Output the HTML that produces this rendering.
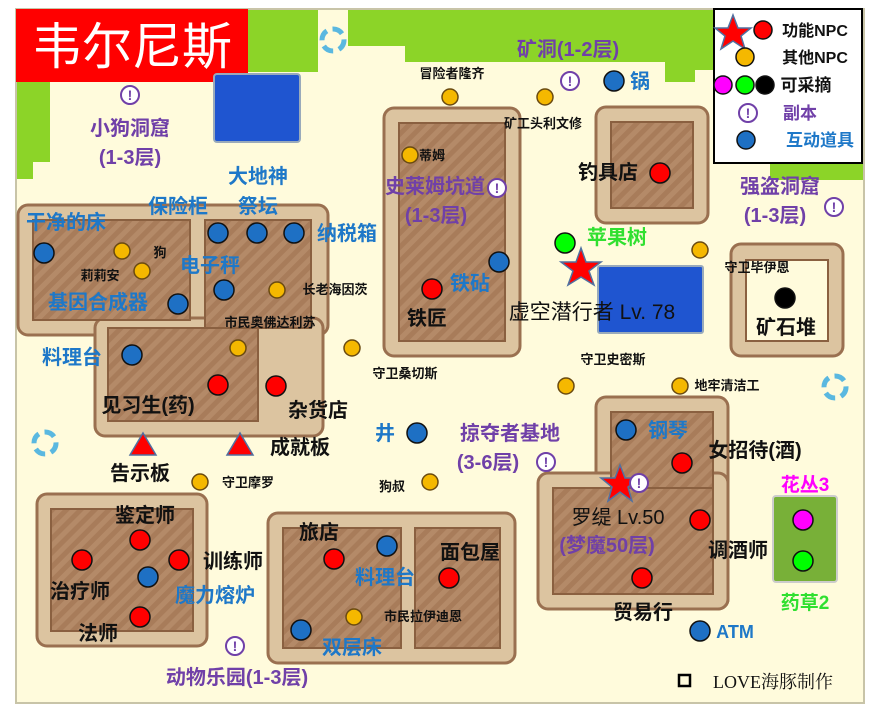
<!DOCTYPE html>
<html><head><meta charset="utf-8"><style>
html,body{margin:0;padding:0;background:#fff;}
svg{display:block;}
text{font-family:"Liberation Sans","Noto Sans CJK SC",sans-serif;font-weight:bold;text-anchor:middle;}
.b{fill:#1e78c8;font-size:20px}
.p{fill:#7040a8;font-size:20px}
.k{fill:#111;font-size:20px}
.s{fill:#111;font-size:13px}
</style></head><body>
<svg width="879" height="707" viewBox="0 0 879 707" xmlns="http://www.w3.org/2000/svg">
<defs>
<pattern id="h" width="10" height="10" patternUnits="userSpaceOnUse" patternTransform="rotate(45)">
<rect width="10" height="10" fill="#a87c5a"/><rect width="5" height="10" fill="#b48a68"/></pattern>
<g id="ex"><circle r="9" fill="#fff" stroke="#7040a8" stroke-width="2"/><text y="5" style="font-size:14px;fill:#7040a8">!</text></g>
<g id="pt"><circle r="11" fill="none" stroke="#5ab8e0" stroke-width="5" stroke-dasharray="11 6"/></g>
</defs>
<rect x="16" y="9" width="848" height="694" fill="#fffbdc" stroke="#c8c4a8" stroke-width="2"/>
<!-- green -->
<g fill="#8cd428">
<rect x="248" y="10" width="70" height="62"/>
<rect x="348" y="10" width="347" height="36"/>
<rect x="405" y="10" width="290" height="52"/>
<rect x="665" y="10" width="30" height="72"/>
<rect x="695" y="10" width="168" height="60"/>
<rect x="770" y="10" width="93" height="170"/>
<rect x="17" y="82" width="33" height="80"/>
<rect x="17" y="82" width="16" height="97"/>
</g>
<rect x="16" y="9" width="232" height="73" fill="#f00"/>
<text x="132" y="64" style="fill:#fff;font-size:50px;font-weight:normal">韦尔尼斯</text>
<rect x="214" y="74" width="86" height="68" rx="3" fill="#1f55d0" stroke="#9ab" stroke-width="2"/>
<rect x="598" y="266" width="105" height="67" rx="2" fill="#1f55d0" stroke="#9ab" stroke-width="2"/>
<!-- buildings -->
<g stroke="#9a7050" stroke-width="3" fill="#dcc4a0">
<rect x="18" y="205" width="310" height="130" rx="10"/>
<rect x="95" y="318" width="228" height="118" rx="10"/>
<rect x="384" y="108" width="136" height="248" rx="10"/>
<rect x="596" y="107" width="112" height="116" rx="10"/>
<rect x="731" y="244" width="112" height="112" rx="10"/>
<rect x="37" y="494" width="170" height="152" rx="10"/>
<rect x="268" y="513" width="247" height="150" rx="10"/>
<rect x="596" y="397" width="132" height="212" rx="10"/>
<rect x="538" y="473" width="190" height="136" rx="10"/>
</g>
<g stroke="#8a6040" stroke-width="2" fill="url(#h)">
<rect x="33" y="220" width="157" height="100"/>
<rect x="205" y="220" width="106" height="108"/>
<rect x="108" y="328" width="150" height="93"/>
<rect x="399" y="123" width="106" height="218"/>
<rect x="611" y="122" width="82" height="86"/>
<rect x="51" y="509" width="142" height="122"/>
<rect x="283" y="528" width="118" height="120"/>
<rect x="415" y="528" width="85" height="120"/>
<rect x="611" y="412" width="102" height="182"/>
<rect x="553" y="488" width="160" height="106"/>
</g>
<rect x="746" y="260" width="82" height="81" fill="#fffbdc" stroke="#8a6040" stroke-width="2"/>
<rect x="612" y="489" width="100" height="104" fill="url(#h)"/>
<rect x="773" y="496" width="64" height="86" rx="3" fill="#78b038" stroke="#ccc" stroke-width="2"/>
<!-- circles -->
<g stroke="#111" stroke-width="1.5" fill="#1e70c4">
<circle cx="44" cy="253" r="10"/><circle cx="218" cy="233" r="10"/><circle cx="257" cy="233" r="10"/><circle cx="294" cy="233" r="10"/>
<circle cx="178" cy="304" r="10"/><circle cx="224" cy="290" r="10"/><circle cx="132" cy="355" r="10"/><circle cx="417" cy="433" r="10"/>
<circle cx="499" cy="262" r="10"/><circle cx="614" cy="81" r="10"/><circle cx="626" cy="430" r="10"/><circle cx="148" cy="577" r="10"/>
<circle cx="387" cy="546" r="10"/><circle cx="301" cy="630" r="10"/><circle cx="700" cy="631" r="10"/>
</g>
<g stroke="#111" stroke-width="1.5" fill="#f00">
<circle cx="218" cy="385" r="10"/><circle cx="276" cy="386" r="10"/><circle cx="432" cy="289" r="10"/><circle cx="660" cy="173" r="10"/>
<circle cx="682" cy="463" r="10"/><circle cx="700" cy="520" r="10"/><circle cx="642" cy="578" r="10"/><circle cx="82" cy="560" r="10"/>
<circle cx="140" cy="540" r="10"/><circle cx="179" cy="560" r="10"/><circle cx="140" cy="617" r="10"/><circle cx="334" cy="559" r="10"/><circle cx="449" cy="578" r="10"/>
</g>
<g stroke="#6a4a10" stroke-width="1.5" fill="#f5b800">
<circle cx="122" cy="251" r="8"/><circle cx="142" cy="271" r="8"/><circle cx="277" cy="290" r="8"/><circle cx="238" cy="348" r="8"/>
<circle cx="352" cy="348" r="8"/><circle cx="450" cy="97" r="8"/><circle cx="545" cy="97" r="8"/><circle cx="410" cy="155" r="8"/>
<circle cx="700" cy="250" r="8"/><circle cx="566" cy="386" r="8"/><circle cx="680" cy="386" r="8"/><circle cx="200" cy="482" r="8"/>
<circle cx="430" cy="482" r="8"/><circle cx="354" cy="617" r="8"/>
</g>
<g stroke="#111" stroke-width="1.5">
<circle cx="565" cy="243" r="10" fill="#0f0"/><circle cx="803" cy="561" r="10" fill="#0f0"/>
<circle cx="803" cy="520" r="10" fill="#f0f"/><circle cx="785" cy="298" r="10" fill="#000"/>
</g>
<polygon points="581,248 586,262 601,262 589,271 594,285 581,277 568,285 573,271 561,262 576,262" fill="#f00" stroke="#5070a0" stroke-width="1.5"/>
<polygon points="620,465 625,478 639,478 628,487 632,501 620,492 608,501 612,487 601,478 615,478" fill="#f00" stroke="#5070a0" stroke-width="1.5"/>
<polygon points="143,433 156,455 130,455" fill="#f00" stroke="#5070a0" stroke-width="1.5"/>
<polygon points="240,433 253,455 227,455" fill="#f00" stroke="#5070a0" stroke-width="1.5"/>
<use href="#ex" x="130" y="95"/><use href="#ex" x="570" y="81"/><use href="#ex" x="497" y="188"/><use href="#ex" x="834" y="207"/>
<use href="#ex" x="546" y="462"/><use href="#ex" x="639" y="483"/><use href="#ex" x="235" y="646"/>
<use href="#pt" x="333" y="40"/><use href="#pt" x="45" y="443"/><use href="#pt" x="835" y="387"/>
<!-- labels -->
<text class="p" x="130" y="135">小狗洞窟</text><text class="p" x="130" y="164">(1-3层)</text>
<text class="b" x="258" y="183">大地神</text><text class="b" x="258" y="213">祭坛</text><text class="b" x="178" y="213">保险柜</text>
<text class="b" x="66" y="229">干净的床</text><text class="b" x="347" y="240">纳税箱</text><text class="b" x="210" y="272">电子秤</text>
<text class="s" x="160" y="257">狗</text><text class="s" x="100" y="280">莉莉安</text><text class="b" x="98" y="309">基因合成器</text>
<text class="s" x="335" y="294">长老海因茨</text><text class="s" x="270" y="327">市民奥佛达利苏</text><text class="b" x="72" y="364">料理台</text>
<text class="s" x="452" y="78">冒险者隆齐</text><text class="s" x="543" y="128">矿工头利文修</text><text class="s" x="432" y="160">蒂姆</text>
<text class="p" x="435" y="193">史莱姆坑道</text><text class="p" x="436" y="222">(1-3层)</text>
<text class="b" x="470" y="290">铁砧</text><text class="k" x="427" y="325">铁匠</text>
<text class="p" x="568" y="56">矿洞(1-2层)</text><text class="b" x="640" y="88">锅</text>
<text class="k" x="608" y="179">钓具店</text><text style="fill:#30e030;font-size:20px" x="617" y="244">苹果树</text>
<text class="k" x="592" y="319" style="font-size:21px;font-weight:normal">虚空潜行者 Lv. 78</text>
<text class="s" x="757" y="272">守卫毕伊恩</text>
<text class="p" x="780" y="193">强盗洞窟</text><text class="p" x="775" y="222">(1-3层)</text>
<text class="k" x="786" y="334">矿石堆</text>
<text class="s" x="405" y="378">守卫桑切斯</text><text class="s" x="613" y="364">守卫史密斯</text><text class="s" x="727" y="390">地牢清洁工</text>
<text class="k" x="148" y="412">见习生(药)</text><text class="k" x="318" y="417">杂货店</text>
<text class="b" x="385" y="440">井</text><text class="p" x="510" y="440">掠夺者基地</text><text class="p" x="488" y="469">(3-6层)</text>
<text class="b" x="668" y="437">钢琴</text><text class="k" x="755" y="457">女招待(酒)</text>
<text class="k" x="300" y="454">成就板</text><text class="k" x="140" y="480">告示板</text>
<text class="s" x="248" y="487">守卫摩罗</text><text class="s" x="392" y="491">狗叔</text>
<text style="fill:#f0f;font-size:19px" x="805" y="491">花丛3</text>
<text class="k" x="618" y="524" style="font-weight:normal">罗缇 Lv.50</text><text class="p" x="607" y="552">(梦魔50层)</text>
<text class="k" x="738" y="557">调酒师</text>
<text class="k" x="145" y="522">鉴定师</text><text class="k" x="233" y="568">训练师</text><text class="k" x="80" y="598">治疗师</text>
<text class="b" x="215" y="602">魔力熔炉</text><text class="k" x="98" y="640">法师</text>
<text class="k" x="319" y="539">旅店</text><text class="k" x="470" y="559">面包屋</text><text class="b" x="385" y="584">料理台</text>
<text class="s" x="423" y="621">市民拉伊迪恩</text><text class="b" x="352" y="654">双层床</text>
<text class="p" x="237" y="684">动物乐园(1-3层)</text>
<text class="k" x="643" y="619">贸易行</text><text class="b" x="735" y="638" style="font-size:18px">ATM</text>
<text style="fill:#30e030;font-size:19px" x="805" y="609">药草2</text>
<rect x="679" y="675" width="11" height="11" fill="none" stroke="#000" stroke-width="2.5"/>
<text x="773" y="688" style="font-family:'Liberation Serif','Noto Serif CJK SC',serif;font-weight:normal;font-size:18px;fill:#111">LOVE海豚制作</text>
<!-- legend -->
<rect x="714" y="9" width="148" height="154" fill="#fff" stroke="#000" stroke-width="2"/>
<polygon points="733,15 738,28 751,28 741,36 745,49 733,41 721,49 725,36 715,28 728,28" fill="#f00" stroke="#5070a0" stroke-width="1.5"/>
<circle cx="763" cy="30" r="9" fill="#f00" stroke="#111" stroke-width="1.5"/>
<circle cx="745" cy="57" r="9" fill="#f5b800" stroke="#111" stroke-width="1.5"/>
<circle cx="723" cy="85" r="9" fill="#f0f" stroke="#111" stroke-width="1.5"/>
<circle cx="745" cy="85" r="9" fill="#0f0" stroke="#111" stroke-width="1.5"/>
<circle cx="765" cy="85" r="9" fill="#000" stroke="#111" stroke-width="1.5"/>
<use href="#ex" x="748" y="113"/>
<circle cx="746" cy="140" r="9" fill="#1e70c4" stroke="#111" stroke-width="1.5"/>
<g style="font-size:16px">
<text x="815" y="36" style="fill:#111">功能NPC</text>
<text x="815" y="63" style="fill:#111">其他NPC</text>
<text x="806" y="91" style="fill:#111;font-size:17px">可采摘</text>
<text x="800" y="119" style="fill:#7040a8;font-size:17px">副本</text>
<text x="820" y="146" style="fill:#1e78c8;font-size:17px">互动道具</text>
</g>
</svg>
</body></html>
